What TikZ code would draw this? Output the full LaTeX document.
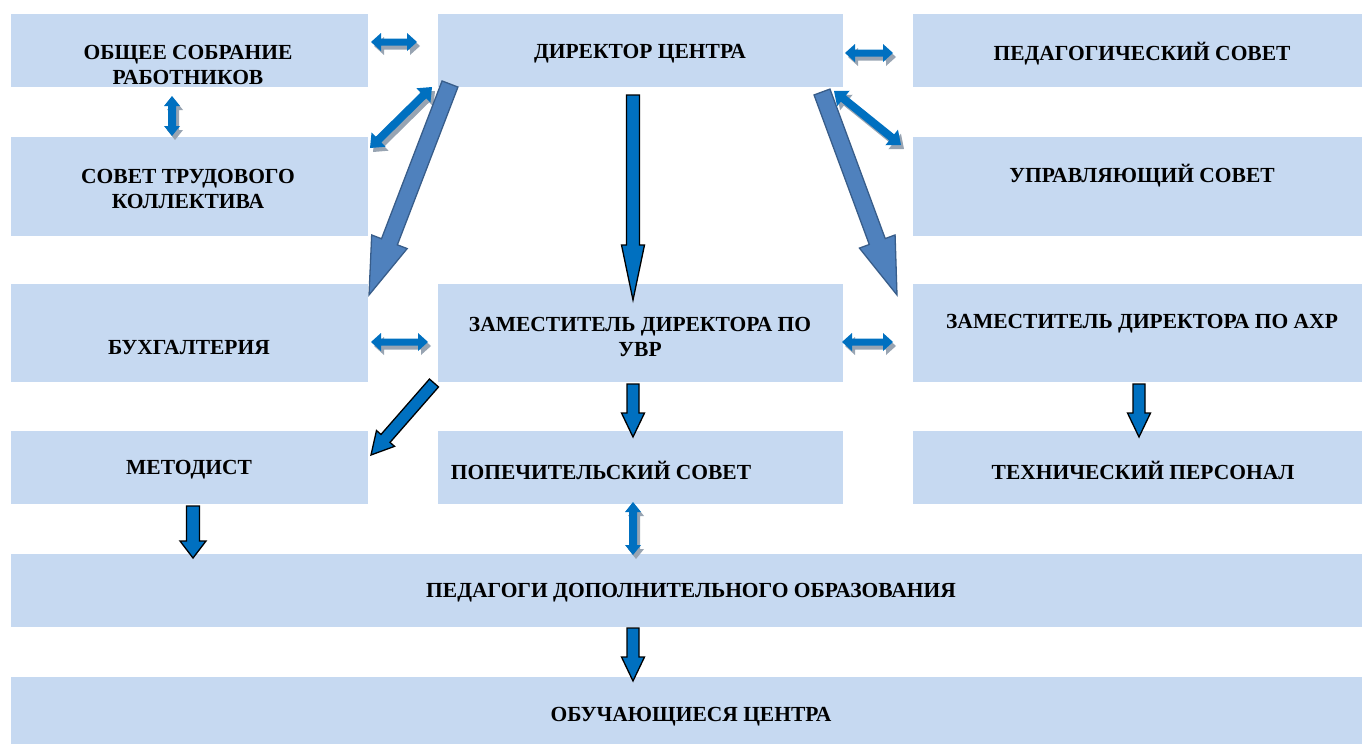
\documentclass[tikz,border=0pt]{standalone}
\usepackage{fontspec}
\setmainfont{Liberation Serif}
\usepackage{tikz}
\usetikzlibrary{calc,positioning}

\definecolor{boxblue}{HTML}{C6D9F1}
\definecolor{arrblue}{HTML}{0070C0}
\definecolor{bigblue}{HTML}{4F81BD}
\definecolor{bigline}{HTML}{385D8A}
\definecolor{shadowgray}{HTML}{98A4B2}

\tikzset{
  box/.style={fill=boxblue, inner sep=0pt},
  lbl/.style={font=\fontsize{21.5}{25.5}\selectfont\bfseries, align=center, inner sep=0pt, yshift=-2pt},
  dblarrow/.style={fill=arrblue},
  dblshadow/.style={fill=shadowgray},
  thinarrow/.style={fill=arrblue, draw=black, line width=1.3pt},
  bigarrow/.style={fill=bigblue, draw=bigline, line width=1.3pt}
}

\newcommand\getends[2]{%
  \path (#1); \pgfgetlastxy{\ax}{\ay}%
  \path (#2); \pgfgetlastxy{\bx}{\by}%
  \pgfmathsetmacro\ang{atan2(\by-\ay,\bx-\ax)}%
  \pgfmathsetmacro\len{veclen(\bx-\ax,\by-\ay)}}

\newcommand\onearrow[6]{%
  \getends{#2}{#3}
  \begin{scope}[shift={(\ax,\ay)}, rotate=\ang]
    \draw[#1] (0pt,-#4pt) -- ({\len pt-#6pt},-#4pt) -- ({\len pt-#6pt},-#5pt)
      -- (\len pt,0pt) -- ({\len pt-#6pt},#5pt) -- ({\len pt-#6pt},#4pt)
      -- (0pt,#4pt) -- cycle;
  \end{scope}}

\newcommand\twoarrow[5]{%
  \getends{#1}{#2}
  \foreach \sty/\dx/\dy in {dblshadow/3/-4, dblarrow/0/0}{
  \begin{scope}[shift={(\dx pt,\dy pt)}, shift={(\ax,\ay)}, rotate=\ang]
    \fill[\sty] (0pt,0pt) -- (#5pt,-#4pt) -- (#5pt,-#3pt) -- ({\len pt-#5pt},-#3pt)
      -- ({\len pt-#5pt},-#4pt) -- (\len pt,0pt) -- ({\len pt-#5pt},#4pt)
      -- ({\len pt-#5pt},#3pt) -- (#5pt,#3pt) -- (#5pt,#4pt) -- cycle;
  \end{scope}}}

\begin{document}
\begin{tikzpicture}[x=1pt, y=-1pt]
\useasboundingbox (0,0) rectangle (1362,744);

\node[box, minimum width=357, minimum height=73] (sobr) at (189.5,50.5) {};
\node[box, minimum width=357, minimum height=99] (stk) at (189.5,186.5) {};
\node[box, minimum width=357, minimum height=98] (buh) at (189.5,333) {};
\node[box, minimum width=357, minimum height=73] (met) at (189.5,467.5) {};
\node[box, minimum width=405, minimum height=73] (dir) at (640.5,50.5) {};
\node[box, minimum width=405, minimum height=98] (uvr) at (640.5,333) {};
\node[box, minimum width=405, minimum height=73] (pop) at (640.5,467.5) {};
\node[box, minimum width=449, minimum height=73] (ped) at (1137.5,50.5) {};
\node[box, minimum width=449, minimum height=99] (upr) at (1137.5,186.5) {};
\node[box, minimum width=449, minimum height=98] (ahr) at (1137.5,333) {};
\node[box, minimum width=449, minimum height=73] (teh) at (1137.5,467.5) {};
\node[box, minimum width=1351, minimum height=73] (pdo) at (686.5,590.5) {};
\node[box, minimum width=1351, minimum height=67] (obu) at (686.5,710.5) {};

\node[lbl] (sobrt) at (188,63) {ОБЩЕЕ СОБРАНИЕ\\РАБОТНИКОВ};
\node[lbl] (stkt) at (188,187) {СОВЕТ ТРУДОВОГО\\КОЛЛЕКТИВА};
\node[lbl] (buht) at (189,346) {БУХГАЛТЕРИЯ};
\node[lbl] (mett) at (189,468) {МЕТОДИСТ};
\node[lbl] (dirt) at (640,52) {ДИРЕКТОР ЦЕНТРА};
\node[lbl] (uvrt) at (640,335) {ЗАМЕСТИТЕЛЬ ДИРЕКТОРА ПО\\УВР};
\node[lbl] (popt) at (601,468) {ПОПЕЧИТЕЛЬСКИЙ СОВЕТ};
\node[lbl] (pedt) at (1142,52) {ПЕДАГОГИЧЕСКИЙ СОВЕТ};
\node[lbl] (uprt) at (1142,174) {УПРАВЛЯЮЩИЙ СОВЕТ};
\node[lbl] (ahrt) at (1142,322) {ЗАМЕСТИТЕЛЬ ДИРЕКТОРА ПО АХР};
\node[lbl] (teht) at (1143,468) {ТЕХНИЧЕСКИЙ ПЕРСОНАЛ};
\node[lbl] (pdot) at (691,591) {ПЕДАГОГИ ДОПОЛНИТЕЛЬНОГО ОБРАЗОВАНИЯ};
\node[lbl] (obut) at (691,715) {ОБУЧАЮЩИЕСЯ ЦЕНТРА};

\coordinate (d1a) at (371,42);   \coordinate (d1b) at (417,42);
\coordinate (d2a) at (845,53);   \coordinate (d2b) at (893,53);
\coordinate (d3a) at (172,96);   \coordinate (d3b) at (172,136);
\coordinate (d4a) at (370,148);  \coordinate (d4b) at (432,87);
\coordinate (d5a) at (834,91);   \coordinate (d5b) at (901,145);
\coordinate (d6a) at (371,342);  \coordinate (d6b) at (428,342);
\coordinate (d7a) at (842,342);  \coordinate (d7b) at (893,342);
\coordinate (d8a) at (633,502);  \coordinate (d8b) at (633,555);

\twoarrow{d1a}{d1b}{3.5}{9}{10}
\twoarrow{d2a}{d2b}{3.5}{9}{10}
\twoarrow{d3a}{d3b}{4}{8}{10}
\twoarrow{d4a}{d4b}{4}{10}{12}
\twoarrow{d5a}{d5b}{4}{10}{12}
\twoarrow{d6a}{d6b}{3.5}{9}{10}
\twoarrow{d7a}{d7b}{3.5}{9}{10}
\twoarrow{d8a}{d8b}{4}{8}{10}

\coordinate (t1a) at (633,95);   \coordinate (t1b) at (633,300);
\coordinate (t2a) at (633,384);  \coordinate (t2b) at (633,437);
\coordinate (t3a) at (1139,384); \coordinate (t3b) at (1139,437);
\coordinate (t4a) at (434,383);  \coordinate (t4b) at (371,455);
\coordinate (t5a) at (193,506);  \coordinate (t5b) at (193,558);
\coordinate (t6a) at (633,628);  \coordinate (t6b) at (633,681);

\onearrow{thinarrow}{t1a}{t1b}{6.5}{11.5}{55}
\onearrow{thinarrow}{t2a}{t2b}{6}{11.5}{24}
\onearrow{thinarrow}{t3a}{t3b}{6}{11.5}{24}
\onearrow{thinarrow}{t4a}{t4b}{6}{12}{22}
\onearrow{thinarrow}{t5a}{t5b}{6.5}{13}{17}
\onearrow{thinarrow}{t6a}{t6b}{6}{11.5}{24}

\coordinate (b1a) at (450,84);   \coordinate (b1b) at (369,295);
\coordinate (b2a) at (822,92);   \coordinate (b2b) at (897,295);

\onearrow{bigarrow}{b1a}{b1b}{8.5}{19}{57}
\onearrow{bigarrow}{b2a}{b2b}{8.5}{19}{57}
\end{tikzpicture}
\end{document}
